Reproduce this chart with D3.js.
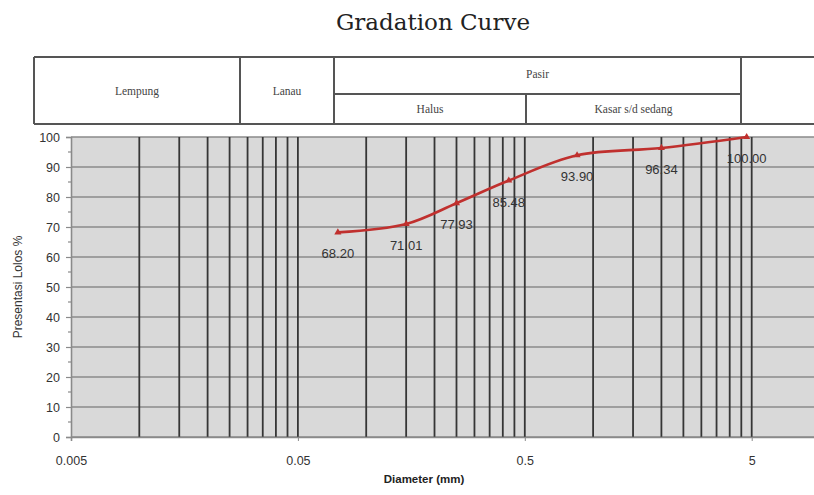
<!DOCTYPE html>
<html>
<head>
<meta charset="utf-8">
<script src="https://cdn.jsdelivr.net/npm/d3@7"></script>
<style>
  html, body { margin: 0; padding: 0; background: #fff; }
  svg { display: block; }
</style>
</head>
<body>
<svg id="chart" width="814" height="495"></svg>
<script>
// Sieve analysis: grain diameter (mm) and percent passing
const diameters = [0.075, 0.15, 0.25, 0.425, 0.85, 2.0, 4.75];
const passing = [68.20, 71.01, 77.93, 85.48, 93.90, 96.34, 100.00];
const xTickValues = [0.005, 0.05, 0.5, 5];
const xTickLabels = ["0.005", "0.05", "0.5", "5"];
const yTicks = [0, 10, 20, 30, 40, 50, 60, 70, 80, 90, 100];

// Soil classification header bands
const headerTop = ["Lempung", "Lanau", "Pasir", ""];
const headerSub = ["Halus", "Kasar s/d sedang"];

const svg = d3.select("#chart");
const W = 814, H = 495;
const plot = { left: 71, right: 820, top: 137, bottom: 437 };

const x = d3.scaleLog().domain([0.005, 10]).range([plot.left, plot.right]);
const y = d3.scaleLinear().domain([0, 100]).range([plot.bottom, plot.top]);

// Title
svg.append("text")
  .attr("x", 433).attr("y", 30)
  .attr("text-anchor", "middle")
  .attr("font-family", "DejaVu Serif, serif")
  .attr("font-size", 23)
  .attr("fill", "#222")
  .text("Gradation Curve");

// Classification header table
const hdr = svg.append("g").attr("stroke", "#555").attr("stroke-width", 2).attr("fill", "none");
const hx = [34, 240, 334, 741, 830];
const hTop = 57, hMid = 94, hBot = 124;
hdr.append("line").attr("x1", hx[0]).attr("x2", W).attr("y1", hTop).attr("y2", hTop);
hdr.append("line").attr("x1", hx[0]).attr("x2", W).attr("y1", hBot).attr("y2", hBot);
hx.slice(0, 4).forEach(v => hdr.append("line").attr("x1", v).attr("x2", v).attr("y1", hTop).attr("y2", hBot));
hdr.append("line").attr("x1", hx[2]).attr("x2", hx[3]).attr("y1", hMid).attr("y2", hMid);
hdr.append("line").attr("x1", 526).attr("x2", 526).attr("y1", hMid).attr("y2", hBot);

const hText = (t, cx, cy) => svg.append("text")
  .attr("x", cx).attr("y", cy)
  .attr("text-anchor", "middle").attr("dominant-baseline", "middle")
  .attr("font-family", "Liberation Serif, serif")
  .attr("font-size", 11.5).attr("fill", "#444")
  .text(t);
hText(headerTop[0], (hx[0] + hx[1]) / 2, 92);
hText(headerTop[1], (hx[1] + hx[2]) / 2, 92);
hText(headerTop[2], (hx[2] + hx[3]) / 2, 75);
hText(headerSub[0], (hx[2] + 526) / 2, 110);
hText(headerSub[1], (526 + hx[3]) / 2, 110);

// Plot background
svg.append("rect")
  .attr("x", plot.left).attr("y", plot.top)
  .attr("width", plot.right - plot.left).attr("height", plot.bottom - plot.top)
  .attr("fill", "#d9d9d9");

// Horizontal gridlines
svg.append("g").selectAll("line").data(yTicks).join("line")
  .attr("x1", plot.left).attr("x2", plot.right)
  .attr("y1", d => y(d)).attr("y2", d => y(d))
  .attr("stroke", "#8a8a8a").attr("stroke-width", 1.6);

// Vertical gridlines at 2..10 times each decade start
const vLines = [];
xTickValues.forEach(base => {
  for (let k = 2; k <= 10; k++) {
    const v = base * k;
    if (v <= 5.0001) vLines.push(v);
  }
});
svg.append("g").selectAll("line").data(vLines).join("line")
  .attr("x1", d => x(d)).attr("x2", d => x(d))
  .attr("y1", plot.top).attr("y2", plot.bottom)
  .attr("stroke", "#363636").attr("stroke-width", 1.8);

// Y axis
const yAxis = svg.append("g").attr("transform", `translate(${plot.left},0)`)
  .call(d3.axisLeft(y).tickValues(yTicks).tickSize(5).tickPadding(6));
yAxis.select(".domain").attr("stroke", "#8a8a8a").attr("stroke-width", 1.6);
yAxis.selectAll(".tick line").attr("stroke", "#8a8a8a").attr("stroke-width", 1.2);
yAxis.selectAll("text").attr("font-family", "Liberation Sans, sans-serif")
  .attr("font-size", 12.5).attr("fill", "#333");
// minor y ticks
svg.append("g").selectAll("line").data(d3.range(5, 100, 10)).join("line")
  .attr("x1", plot.left - 3).attr("x2", plot.left)
  .attr("y1", d => y(d)).attr("y2", d => y(d))
  .attr("stroke", "#8a8a8a").attr("stroke-width", 1.2);

// X axis
const xAxis = svg.append("g").attr("transform", `translate(0,${plot.bottom})`)
  .call(d3.axisBottom(x).tickValues(xTickValues).tickFormat((d, i) => xTickLabels[i]).tickSize(4).tickPadding(15));
xAxis.select(".domain").attr("stroke", "#8a8a8a").attr("stroke-width", 1.6);
xAxis.selectAll(".tick line").attr("stroke", "#8a8a8a");
xAxis.selectAll("text").attr("font-family", "Liberation Sans, sans-serif")
  .attr("font-size", 12.5).attr("fill", "#333");

// Axis titles
svg.append("text")
  .attr("x", 424).attr("y", 483)
  .attr("text-anchor", "middle")
  .attr("font-family", "Liberation Sans, sans-serif")
  .attr("font-size", 11.5).attr("font-weight", "bold").attr("fill", "#222")
  .text("Diameter (mm)");
svg.append("text")
  .attr("transform", "translate(22,287) rotate(-90)")
  .attr("text-anchor", "middle")
  .attr("font-family", "Liberation Sans, sans-serif")
  .attr("font-size", 12).attr("fill", "#333")
  .text("Presentasi Lolos %");

// Gradation curve
const pts = diameters.map((d, i) => [d, passing[i]]);
svg.append("path")
  .datum(pts)
  .attr("fill", "none")
  .attr("stroke", "#c0302e").attr("stroke-width", 2.6)
  .attr("d", d3.line().x(d => x(d[0])).y(d => y(d[1])).curve(d3.curveCatmullRom.alpha(0.5)));

svg.append("g").selectAll("path").data(pts).join("path")
  .attr("transform", d => `translate(${x(d[0])},${y(d[1])})`)
  .attr("d", d3.symbol().type(d3.symbolTriangle).size(22))
  .attr("fill", "#c0302e");

// Value labels
svg.append("g").selectAll("text").data(pts).join("text")
  .attr("x", d => x(d[0]))
  .attr("y", d => y(d[1]) + 26)
  .attr("text-anchor", "middle")
  .attr("font-family", "Liberation Sans, sans-serif")
  .attr("font-size", 13).attr("fill", "#333")
  .text(d => d[1].toFixed(2));
</script>
</body>
</html>
